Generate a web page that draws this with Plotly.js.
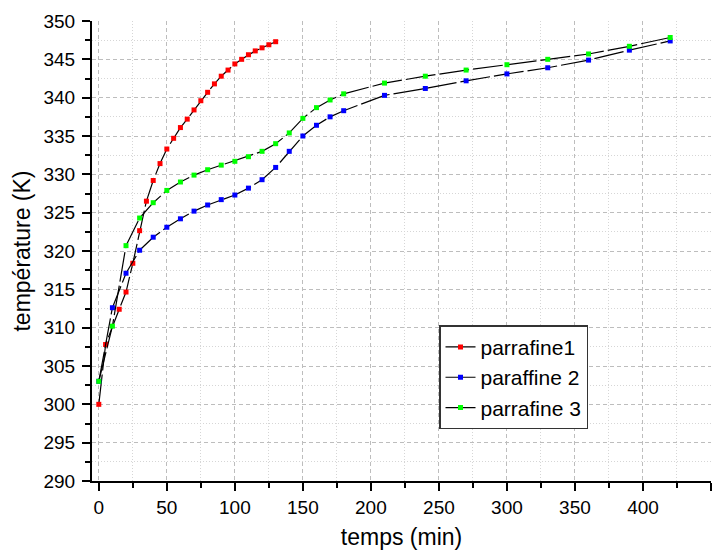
<!DOCTYPE html>
<html>
<head>
<meta charset="utf-8">
<script src="https://cdn.plot.ly/plotly-3.0.1.min.js"></script>
<style>
  html, body { margin: 0; padding: 0; background: #fff; }
  #chart { width: 726px; height: 551px; }
</style>
</head>
<body>
<div id="chart"></div>
<script>
// Heating curves of three paraffin samples: temperature (K) versus time (min)
const time1 = [0, 5, 15, 20, 25, 30, 35, 40, 45, 50, 55, 60, 65, 70, 75, 80, 85, 90, 95, 100, 105, 110, 115, 120, 125, 130];
const temp1 = [300, 307.8, 312.4, 314.65, 318.4, 322.65, 326.5, 329.2, 331.4, 333.3, 334.7, 336.1, 337.2, 338.4, 339.6, 340.7, 341.8, 342.8, 343.6, 344.4, 345.0, 345.6, 346.1, 346.5, 346.9, 347.3];

const time2 = [0, 10, 20, 30, 40, 50, 60, 70, 80, 90, 100, 110, 120, 130, 140, 150, 160, 170, 180, 210, 240, 270, 300, 330, 360, 390, 420];
const temp2 = [303, 312.6, 317.1, 320.1, 321.8, 323.1, 324.2, 325.2, 326.0, 326.7, 327.3, 328.2, 329.3, 330.9, 333.0, 335.0, 336.4, 337.5, 338.3, 340.3, 341.2, 342.2, 343.1, 343.9, 344.9, 346.2, 347.4];

const time3 = [0, 10, 20, 30, 40, 50, 60, 70, 80, 90, 100, 110, 120, 130, 140, 150, 160, 170, 180, 210, 240, 270, 300, 330, 360, 390, 420];
const temp3 = [303, 310.2, 320.7, 324.3, 326.3, 327.9, 329.0, 329.9, 330.6, 331.2, 331.7, 332.3, 333.0, 334.0, 335.4, 337.3, 338.7, 339.7, 340.5, 341.9, 342.8, 343.6, 344.3, 345.0, 345.7, 346.7, 347.85];

const seriesNames = ['parrafine1', 'paraffine 2', 'parrafine 3'];
const seriesColors = ['#ff0000', '#0000ff', '#00ff00'];

const FONT = 'Arial, "Liberation Sans", Helvetica, sans-serif';

function series(x, y, i) {
  return {
    type: 'scatter',
    mode: 'lines+markers',
    name: seriesNames[i],
    x: x,
    y: y,
    line: { color: '#000000', width: 1.2, dash: '30px,4px' },
    marker: { symbol: 'square', size: 5, color: seriesColors[i], line: { width: 0 } }
  };
}

const data = [
  series(time1, temp1, 0),
  series(time2, temp2, 1),
  series(time3, temp3, 2)
];

const axisCommon = {
  showline: true,
  linecolor: '#000000',
  linewidth: 2,
  mirror: false,
  ticks: 'outside',
  ticklen: 8,
  tickwidth: 2,
  tickcolor: '#000000',
  zeroline: false,
  showgrid: true,
  gridcolor: '#bdbdbd',
  gridwidth: 1,
  griddash: '4px,3px',
  tickfont: { family: FONT, size: 19, color: '#000000' }
};

const layout = {
  width: 726,
  height: 551,
  margin: { l: 92, r: 15, t: 21, b: 70 },
  paper_bgcolor: '#ffffff',
  plot_bgcolor: '#ffffff',
  font: { family: FONT, color: '#000000' },
  showlegend: true,
  xaxis: Object.assign({}, axisCommon, {
    range: [-5, 450],
    tickmode: 'linear',
    tick0: 0,
    dtick: 50,
    title: { text: 'temps (min)', font: { family: FONT, size: 23, color: '#000000' }, standoff: 12 },
    minor: {
      dtick: 25, tick0: 0, ticks: 'outside', ticklen: 5, tickwidth: 2, tickcolor: '#000000',
      showgrid: true, gridcolor: '#d6d6d6', gridwidth: 1, griddash: '1px,2px'
    }
  }),
  yaxis: Object.assign({}, axisCommon, {
    range: [290, 350],
    tickmode: 'linear',
    tick0: 290,
    dtick: 5,
    ticklabelstandoff: 3,
    title: { text: 'température (K)', font: { family: FONT, size: 23, color: '#000000' }, standoff: 6 },
    minor: {
      dtick: 2.5, tick0: 290, ticks: 'outside', ticklen: 5, tickwidth: 2, tickcolor: '#000000',
      showgrid: true, gridcolor: '#d6d6d6', gridwidth: 1, griddash: '1px,2px'
    }
  }),
  legend: {
    x: 0.5606,
    y: 0.3385,
    xanchor: 'left',
    yanchor: 'top',
    bgcolor: '#ffffff',
    bordercolor: '#333333',
    borderwidth: 1.5,
    font: { family: FONT, size: 21, color: '#000000' },
    tracegroupgap: 0,
    itemwidth: 30
  }
};

Plotly.newPlot('chart', data, layout, { displayModeBar: false, staticPlot: true });
</script>
</body>
</html>
